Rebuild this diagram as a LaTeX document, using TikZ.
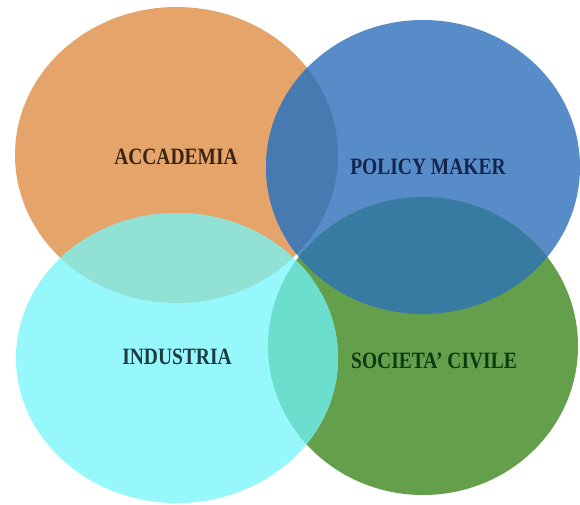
\documentclass[tikz,border=0pt]{standalone}
\usepackage{fontspec}
\setmainfont{Liberation Serif}
\definecolor{orangeC}{HTML}{E5A56A}
\definecolor{blueC}{HTML}{588CC8}
\definecolor{cyanC}{HTML}{96F8FA}
\definecolor{greenC}{HTML}{64A04C}
\definecolor{ovOB}{HTML}{487AB2}
\definecolor{ovOC}{HTML}{91E1D4}
\definecolor{ovCG}{HTML}{6CDECD}
\definecolor{ovBG}{HTML}{377AA2}
\definecolor{txtA}{HTML}{3B2410}
\definecolor{txtP}{HTML}{14244A}
\definecolor{txtI}{HTML}{1C3C44}
\definecolor{txtS}{HTML}{0E3A12}
\begin{document}
\begin{tikzpicture}[x=1pt,y=-1pt,
  lbl/.style={font=\fontsize{19.5}{20}\selectfont\bfseries, inner sep=0pt, yscale=1.2}]
\useasboundingbox (0,0) rectangle (580,504);
\fill[white] (0,0) rectangle (580,504);
\def\Oell{(176.5,155) ellipse [x radius=161.5, y radius=148]}
\def\Bell{(423,167) ellipse [x radius=157, y radius=147]}
\def\Cell{(177,358) ellipse [x radius=161, y radius=145]}
\def\Gell{(423,346) ellipse [x radius=155, y radius=149]}
\fill[orangeC] \Oell;
\fill[blueC] \Bell;
\fill[greenC] \Gell;
\fill[cyanC] \Cell;
\begin{scope}\clip \Oell; \fill[ovOB] \Bell; \end{scope}
\begin{scope}\clip \Oell; \fill[ovOC] \Cell; \end{scope}
\begin{scope}\clip \Gell; \fill[ovCG] \Cell; \end{scope}
\begin{scope}\clip \Gell; \fill[ovBG] \Bell; \end{scope}
\node[lbl, text=txtA] (acc) at (176,157) {ACCADEMIA};
\node[lbl, text=txtP] (pol) at (428,167) {POLICY MAKER};
\node[lbl, text=txtI] (ind) at (177,357) {INDUSTRIA};
\node[lbl, text=txtS] (soc) at (434,361) {SOCIETA' CIVILE};
\end{tikzpicture}
\end{document}
